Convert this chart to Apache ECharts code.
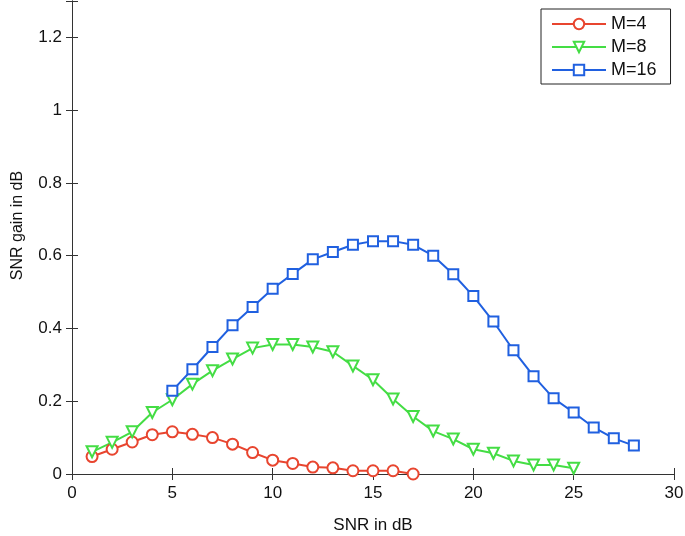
<!DOCTYPE html>
<html>
<head>
<meta charset="utf-8">
<script src="https://cdn.jsdelivr.net/npm/echarts@6/dist/echarts.min.js"></script>
<style>html,body{margin:0;padding:0;background:#fff}#c{width:685px;height:536px}</style>
</head>
<body>
<div id="c"></div>
<script>
const seriesNames = ['M=4', 'M=8', 'M=16'];
const xM4 = [1,2,3,4,5,6,7,8,9,10,11,12,13,14,15,16,17];
const yM4 = [0.048,0.068,0.088,0.108,0.116,0.109,0.100,0.082,0.059,0.038,0.029,0.019,0.017,0.009,0.009,0.009,0.000];
const xM8 = [1,2,3,4,5,6,7,8,9,10,11,12,13,14,15,16,17,18,19,20,21,22,23,24,25];
const yM8 = [0.061,0.087,0.116,0.169,0.204,0.247,0.284,0.316,0.346,0.356,0.356,0.349,0.336,0.297,0.259,0.206,0.158,0.118,0.096,0.068,0.057,0.036,0.025,0.025,0.016];
const xM16 = [5,6,7,8,9,10,11,12,13,14,15,16,17,18,19,20,21,22,23,24,25,26,27,28];
const yM16 = [0.229,0.288,0.349,0.409,0.459,0.509,0.550,0.590,0.610,0.630,0.640,0.640,0.630,0.600,0.549,0.489,0.419,0.340,0.269,0.208,0.169,0.128,0.098,0.078];
const xTicks = [0,5,10,15,20,25,30];
const yTicks = [0,0.2,0.4,0.6,0.8,1,1.2];
const colors = ['#e8452f', '#44dd44', '#2060e0'];

const pair = (xs, ys) => xs.map((x, i) => [x, ys[i]]);
const font = 'Liberation Sans, Arial, Helvetica, sans-serif';
const axisCol = '#333';

const chart = echarts.init(document.getElementById('c'), null, {renderer: 'canvas'});
const baseX = {
  type: 'value', min: xTicks[0], max: xTicks[xTicks.length - 1], interval: 5,
  splitLine: {show: false},
  axisLine: {show: true, lineStyle: {color: axisCol, width: 1}},
  axisTick: {show: true, inside: true, length: 6, lineStyle: {color: axisCol}}
};
const baseY = {
  type: 'value', min: yTicks[0], max: 1.3, interval: 0.2,
  splitLine: {show: false},
  axisLine: {show: true, lineStyle: {color: axisCol, width: 1}},
  axisTick: {show: true, inside: true, length: 6, lineStyle: {color: axisCol}}
};
const mk = (name, data, color, symbol, rotate, size) => ({
  name, type: 'line', data, xAxisIndex: 0, yAxisIndex: 0,
  smooth: false, symbol, symbolSize: size, symbolRotate: rotate,
  showAllSymbol: true,
  lineStyle: {color, width: 2},
  itemStyle: {color, borderColor: color, borderWidth: 1.8},
  emphasis: {disabled: true}, animation: false
});

chart.setOption({
  animation: false,
  backgroundColor: '#fff',
  textStyle: {fontFamily: font},
  grid: {left: 72, right: 11, top: 1, bottom: 62, containLabel: false, outerBoundsMode: 'none'},
  legend: {
    orient: 'vertical', left: 541, top: 9,
    data: seriesNames,
    itemWidth: 54, itemHeight: 13, itemGap: 5,
    padding: [6, 14, 5, 10],
    borderColor: '#222', borderWidth: 1, backgroundColor: '#fff',
    textStyle: {fontFamily: font, fontSize: 18, color: '#111'}
  },
  xAxis: [
    Object.assign({}, baseX, {
      position: 'bottom',
      name: 'SNR in dB', nameLocation: 'middle', nameGap: 43,
      nameTextStyle: {fontFamily: font, fontSize: 17, color: '#111'},
      axisLabel: {show: true, margin: 11, fontFamily: font, fontSize: 17, color: '#111'}
    }),
    Object.assign({}, baseX, {position: 'top', axisLabel: {show: false}})
  ],
  yAxis: [
    Object.assign({}, baseY, {
      position: 'left',
      name: 'SNR gain in dB', nameLocation: 'middle', nameGap: 46,
      nameTextStyle: {fontFamily: font, fontSize: 16, color: '#111', padding: [0, 0, 0, 24]},
      axisLabel: {show: true, margin: 10, fontFamily: font, fontSize: 17, color: '#111',
        formatter: v => (yTicks.some(t => Math.abs(t - v) < 1e-9) ? String(+v.toFixed(1)) : '')}
    }),
    Object.assign({}, baseY, {position: 'right', axisLabel: {show: false}})
  ],
  series: [
    mk(seriesNames[0], pair(xM4, yM4), colors[0], 'emptyCircle', 0, 11),
    mk(seriesNames[1], pair(xM8, yM8), colors[1], 'emptyTriangle', 180, 11),
    mk(seriesNames[2], pair(xM16, yM16), colors[2], 'emptyRect', 0, 10)
  ]
});
</script>
</body>
</html>
